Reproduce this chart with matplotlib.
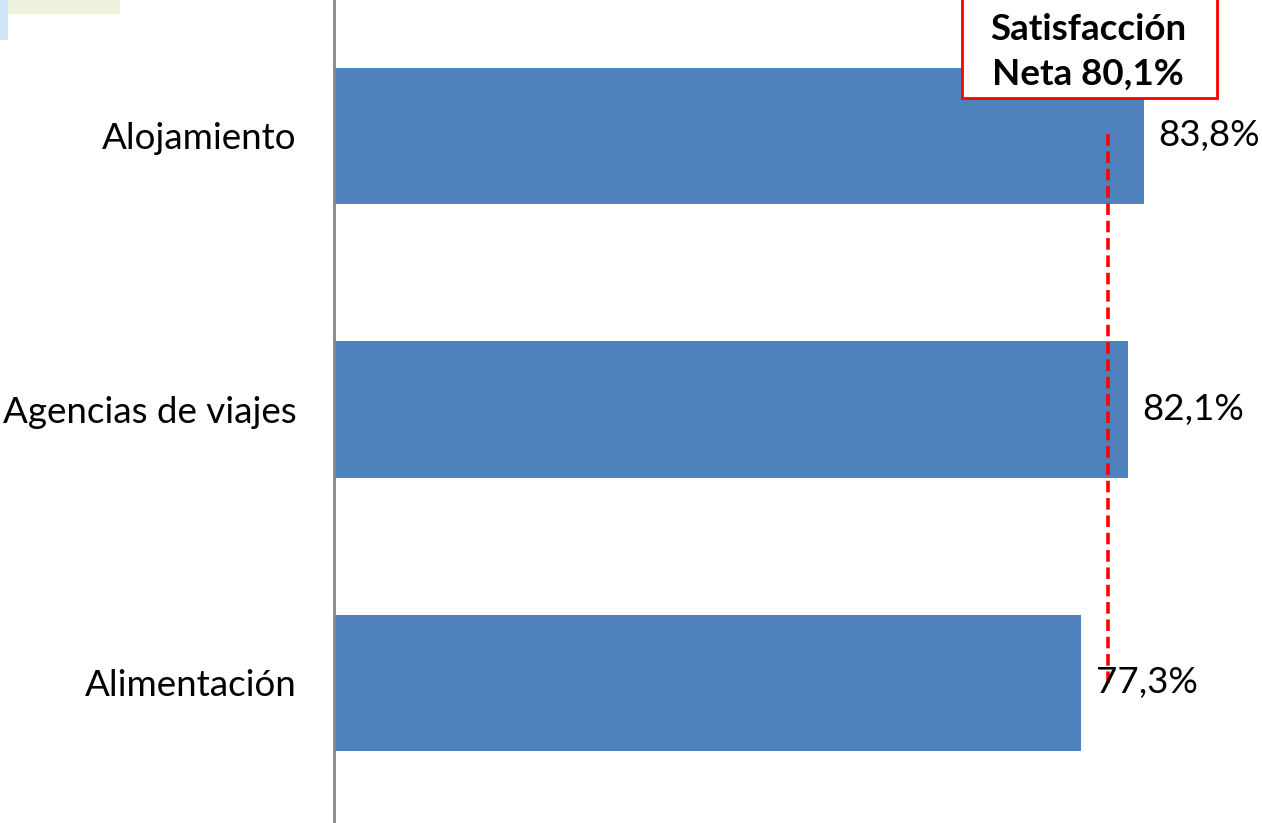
import matplotlib
matplotlib.use("Agg")
import matplotlib.pyplot as plt
from matplotlib.patches import Rectangle

# data
categorias = ["Alimentación", "Agencias de viajes", "Alojamiento"]
valores = [77.3, 82.1, 83.8]
etiquetas = ["77,3%", "82,1%", "83,8%"]
satisfaccion_neta = 80.1
texto_neta = "Satisfacción\nNeta 80,1%"

plt.rcParams['font.family'] = ['Lato', 'DejaVu Sans']

fig = plt.figure(figsize=(12.62, 8.23), dpi=100)
ax = fig.add_axes([334 / 1262, 0, 1 - 334 / 1262, 1])

pos = list(range(len(categorias)))
ax.barh(pos, valores, height=0.5, color='#4f81bd')
ax.set_xlim(0, 96.0)
ax.set_ylim(-0.512, 2.497)

for p, v, t in zip(pos, valores, etiquetas):
    ax.text(v + 1.5, p, t, va='center', ha='left', fontsize=26.5, color='black')

# net satisfaction line
ax.plot([satisfaccion_neta, satisfaccion_neta], [0, 2.02], color='red',
        linestyle=(0, (3.2, 1.6)), linewidth=2.6)

ax.set_yticks(pos)
ax.set_yticklabels(categorias, fontsize=26.5)
ax.tick_params(axis='y', length=0, pad=27)
ax.set_xticks([])
for s in ['top', 'right', 'bottom']:
    ax.spines[s].set_visible(False)
ax.spines['left'].set_color('#868686')
ax.spines['left'].set_linewidth(2)

# net satisfaction box
fig.patches.append(Rectangle((962 / 1262, 1 - 98 / 823), (1217 - 962) / 1262, 0.2,
                             transform=fig.transFigure, facecolor='white',
                             edgecolor='red', linewidth=2, zorder=5))
fig.text(1088 / 1262, 1 - 52 / 823, texto_neta, ha='center', va='center',
         fontsize=26.5, fontweight='bold', linespacing=1.45, zorder=6)

# top-left decoration
fig.patches.append(Rectangle((0, 1 - 40 / 823), 8 / 1262, 40 / 823,
                             transform=fig.transFigure, facecolor='#cfe6f7',
                             edgecolor='none'))
fig.patches.append(Rectangle((8 / 1262, 1 - 14 / 823), 112 / 1262, 14 / 823,
                             transform=fig.transFigure, facecolor='#eef2dc',
                             edgecolor='none'))

fig.savefig('out.png', dpi=100)
